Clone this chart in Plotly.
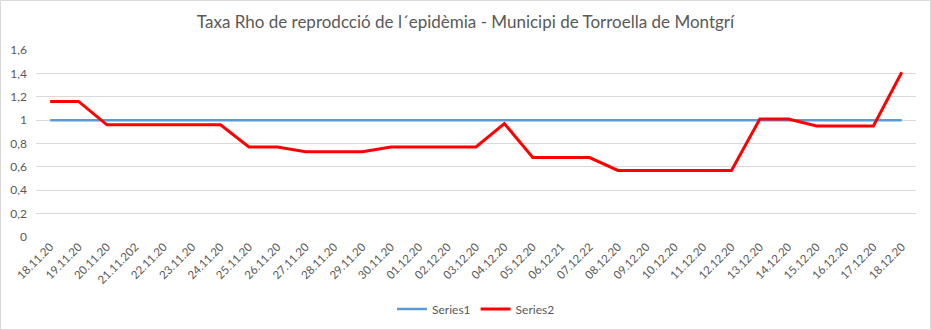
import plotly.graph_objects as go

# Daily dates (category labels, as written in the source sheet)
dates = [
    "18.11.20", "19.11.20", "20.11.20", "21.11.202", "22.11.20", "23.11.20",
    "24.11.20", "25.11.20", "26.11.20", "27.11.20", "28.11.20", "29.11.20",
    "30.11.20", "01.12.20", "02.12.20", "03.12.20", "04.12.20", "05.12.20",
    "06.12.21", "07.12.22", "08.12.20", "09.12.20", "10.12.20", "11.12.20",
    "12.12.20", "13.12.20", "14.12.20", "15.12.20", "16.12.20", "17.12.20",
    "18.12.20",
]

# Reference threshold (Rho = 1)
series1 = [1.0] * len(dates)

# Rho reproduction rate
series2 = [
    1.16, 1.16, 0.96, 0.96, 0.96, 0.96, 0.96, 0.77, 0.77, 0.73, 0.73, 0.73,
    0.77, 0.77, 0.77, 0.77, 0.97, 0.68, 0.68, 0.68, 0.57, 0.57, 0.57, 0.57,
    0.57, 1.01, 1.01, 0.95, 0.95, 0.95, 1.41,
]

y_ticks = [0, 0.2, 0.4, 0.6, 0.8, 1.0, 1.2, 1.4, 1.6]
y_tick_labels = ["0", "0,2", "0,4", "0,6", "0,8", "1", "1,2", "1,4", "1,6"]

FONT = "Lato"
GREY = "#595959"

fig = go.Figure()
fig.add_trace(go.Scatter(
    x=dates, y=series1, name="Series1", mode="lines",
    line=dict(color="#5b9bd5", width=2.5),
))
fig.add_trace(go.Scatter(
    x=dates, y=series2, name="Series2", mode="lines",
    line=dict(color="#ff0000", width=3),
))

W, H = 931, 330
ml, mr, mt, mb = 36, 15, 50, 93
pw, ph = W - ml - mr, H - mt - mb

fig.update_layout(
    width=W, height=H,
    margin=dict(l=ml, r=mr, t=mt, b=mb, autoexpand=False),
    paper_bgcolor="white", plot_bgcolor="white",
    font=dict(family=FONT, color=GREY),
    title=dict(
        text="Taxa Rho de reprodcció de l´epidèmia - Municipi de Torroella de Montgrí",
        x=0.5, xanchor="center", y=1 - 22 / H, yanchor="middle",
        font=dict(family=FONT, size=17, color=GREY),
    ),
    xaxis=dict(
        type="category", range=[-0.5, len(dates) - 0.5],
        tickangle=-45, tickfont=dict(size=11.5, color=GREY),
        showgrid=False, showline=False, ticks="", zeroline=False,
        automargin=False,
    ),
    yaxis=dict(
        range=[0, 1.6], tickvals=y_ticks, ticktext=y_tick_labels,
        tickfont=dict(size=12, color=GREY),
        showgrid=True, gridcolor="#d9d9d9", gridwidth=1,
        zeroline=False, showline=False, ticks="", ticklabelstandoff=8,
        automargin=False,
    ),
    showlegend=True,
    legend=dict(
        orientation="h", x=0.5, xanchor="center",
        y=-(309 - (H - mb)) / ph, yanchor="middle",
        font=dict(size=12, color=GREY),
    ),
    shapes=[dict(
        type="rect", xref="paper", yref="paper",
        x0=-(ml - 0.5) / pw, x1=1 + (mr - 0.5) / pw,
        y0=-(mb - 0.5) / ph, y1=1 + (mt - 0.5) / ph,
        line=dict(color="#d9d9d9", width=1), layer="below",
    )],
)

fig.write_html("out.html")
